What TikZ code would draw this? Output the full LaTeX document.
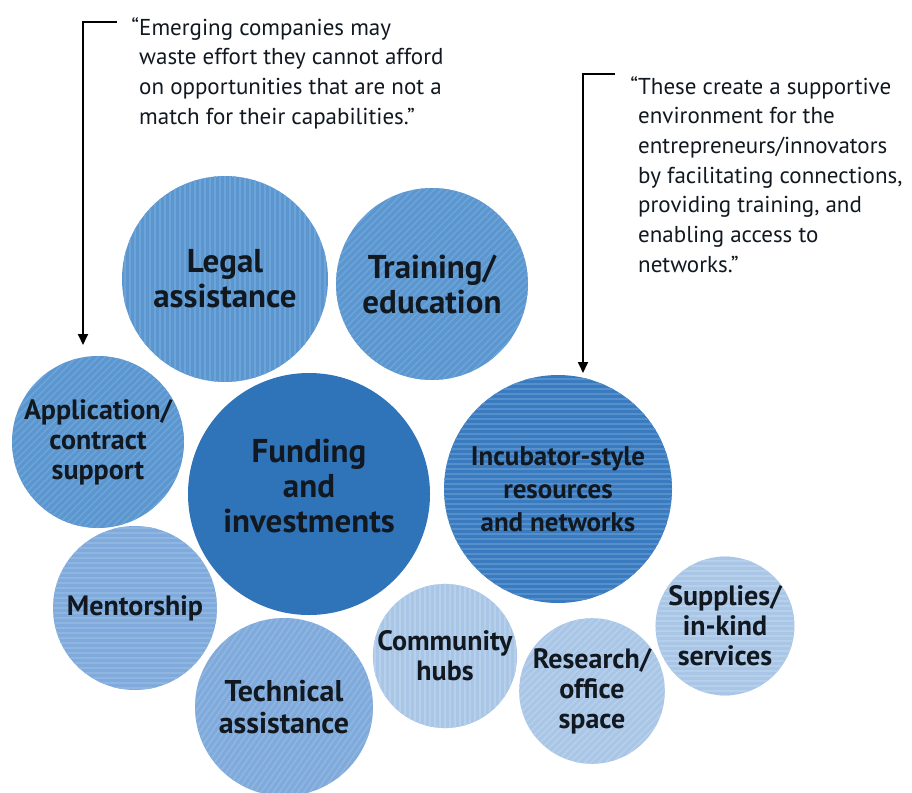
\documentclass[tikz,border=0pt]{standalone}
\usepackage{fontspec}
\setmainfont{PT Sans}
\usetikzlibrary{arrows.meta}

\definecolor{inkdark}{HTML}{111820}
\definecolor{deepblue}{HTML}{2F74B9}
\definecolor{midblue}{HTML}{5B96CF}
\definecolor{midstripe}{HTML}{6CA3D8}
\definecolor{incblue}{HTML}{3A7BC0}
\definecolor{incstripe}{HTML}{5590CC}
\definecolor{softblue}{HTML}{7FAADB}
\definecolor{softstripe}{HTML}{8FB6E1}
\definecolor{paleblue}{HTML}{A9C6E6}
\definecolor{palestripe}{HTML}{B6CFEB}

% striped fill drawn inside a circle, #1 = stripe direction, #2 = stripe colour
\newcommand\stripes[2]{%
  \foreach \k in {-26,...,26}
    \draw[#2, line width=1.6pt] (path picture bounding box.center)
      ++(#1+90:\k*5pt) ++(#1:-160pt) -- ++(#1:320pt);}

\tikzset{
  bubble/.style={circle, inner sep=0pt, minimum size=#1, align=center,
    text=inkdark, font=\bfseries\fontsize{28}{30}\selectfont},
  bigtext/.style={font=\bfseries\fontsize{33}{35}\selectfont},
  tonemid/.style={fill=midblue, path picture={\stripes{#1}{midstripe}}},
  toneinc/.style={fill=incblue, path picture={\stripes{#1}{incstripe}}},
  tonesoft/.style={fill=softblue, path picture={\stripes{#1}{softstripe}}},
  tonepale/.style={fill=paleblue, path picture={\stripes{#1}{palestripe}}},
  quote/.style={anchor=north west, inner sep=0pt, align=left, text=inkdark,
    font=\fontsize{23}{29.7}\selectfont},
  pointer/.style={draw=black, line width=1.8pt,
    -{Triangle[length=11pt,width=10pt]}},
}

\begin{document}
\begin{tikzpicture}[x=1pt,y=-1pt]
\useasboundingbox (0,0) rectangle (912,792);

% circles
\node[bubble=206pt, tonemid=90, bigtext] (legal) at (225,279) {Legal\\assistance};
\node[bubble=192pt, tonemid=45, bigtext] (train) at (432,284) {Training/\\education};
\node[bubble=172pt, tonemid=45] (app) at (98,442) {Application/\\contract\\support};
\node[bubble=242pt, fill=deepblue, bigtext] (fund) at (309,494) {Funding\\and\\investments\vphantom{g}\\[-19pt]};
\node[bubble=228pt, toneinc=0, font=\bfseries\fontsize{27}{33}\selectfont] (incub) at (558,489) {Incubator-style\\resources\\and networks};
\node[bubble=164pt, tonesoft=0] (mentor) at (135,608) {Mentorship};
\node[bubble=178pt, tonesoft=55, font=\bfseries\fontsize{30}{32}\selectfont] (tech) at (284,707) {Technical\\assistance};
\node[bubble=144pt, tonepale=90] (hubs) at (445,656) {Community\\hubs};
\node[bubble=142pt, tonepale=45] (space) at (592,691) {Research/\\office\\space};
\node[bubble=134pt, tonepale=0] (supply) at (725,626) {Supplies/\\in-kind\\services};

% quotations
\node[quote] (q1) at (139,17) {\llap{“}Emerging companies may\\waste effort they cannot afford\\on opportunities that are not a\\match for their capabilities.”};
\node[quote] (q2) at (638,76) {\llap{“}These create a supportive\\environment for the\\entrepreneurs/innovators\\by facilitating connections,\\providing training, and\\enabling access to\\networks.”};

% leader arrows
\coordinate (s1) at (117,22);
\coordinate (t1) at (83,345);
\coordinate (s2) at (615,74);
\coordinate (t2) at (583,373);
\draw[pointer] (s1) -| (t1);
\draw[pointer] (s2) -| (t2);
\end{tikzpicture}
\end{document}
